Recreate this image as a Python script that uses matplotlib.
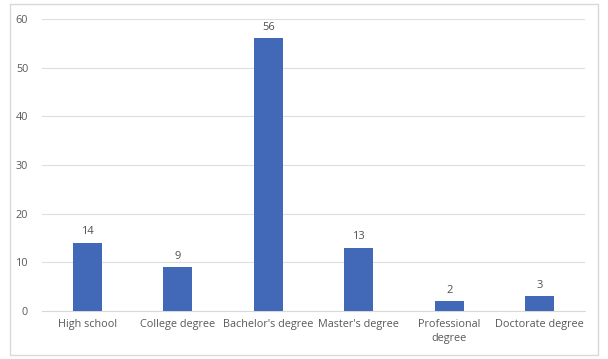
import matplotlib
matplotlib.use("Agg")
import matplotlib.pyplot as plt
from matplotlib.patches import Rectangle

categories = ["High school", "College degree", "Bachelor's degree", "Master's degree",
              "Professional\ndegree", "Doctorate degree"]
values = [14, 9, 56, 13, 2, 3]
yticks = [0, 10, 20, 30, 40, 50, 60]

W, H = 608, 359
fig = plt.figure(figsize=(W/100, H/100), dpi=100)
fig.patch.set_facecolor("white")
fig.add_artist(Rectangle((10/W, 4/H), 588/W, 351/H, transform=fig.transFigure,
                         fill=False, edgecolor="#D9D9D9", linewidth=1))

ax = fig.add_axes([42/W, 1 - 311/H, 543/W, (311 - 19)/H])
x = list(range(len(categories)))
bars = ax.bar(x, values, width=0.32, color="#4169B8", zorder=3)
ax.set_xlim(-0.5, len(categories) - 0.5)
ax.set_ylim(0, 60)
ax.set_yticks(yticks)
ax.grid(axis="y", color="#DEDEDE", linewidth=0.8, zorder=0)
for s in ["top", "right", "left"]:
    ax.spines[s].set_visible(False)
ax.spines["bottom"].set_color("#D9D9D9")
ax.tick_params(axis="both", length=0, colors="#595959", labelsize=7.8)
ax.tick_params(axis="y", pad=10)
ax.tick_params(axis="x", pad=6)
ax.set_xticks(x)
ax.set_xticklabels(categories, linespacing=1.3)
for b, v in zip(bars, values):
    ax.annotate(str(v), (b.get_x() + b.get_width()/2, v), xytext=(0, 4),
                textcoords="offset points", ha="center", va="bottom",
                color="#505050", fontsize=8, fontfamily="Open Sans")
for t in ax.get_xticklabels() + ax.get_yticklabels():
    t.set_fontfamily("Open Sans")
fig.savefig("out.png", dpi=100)
